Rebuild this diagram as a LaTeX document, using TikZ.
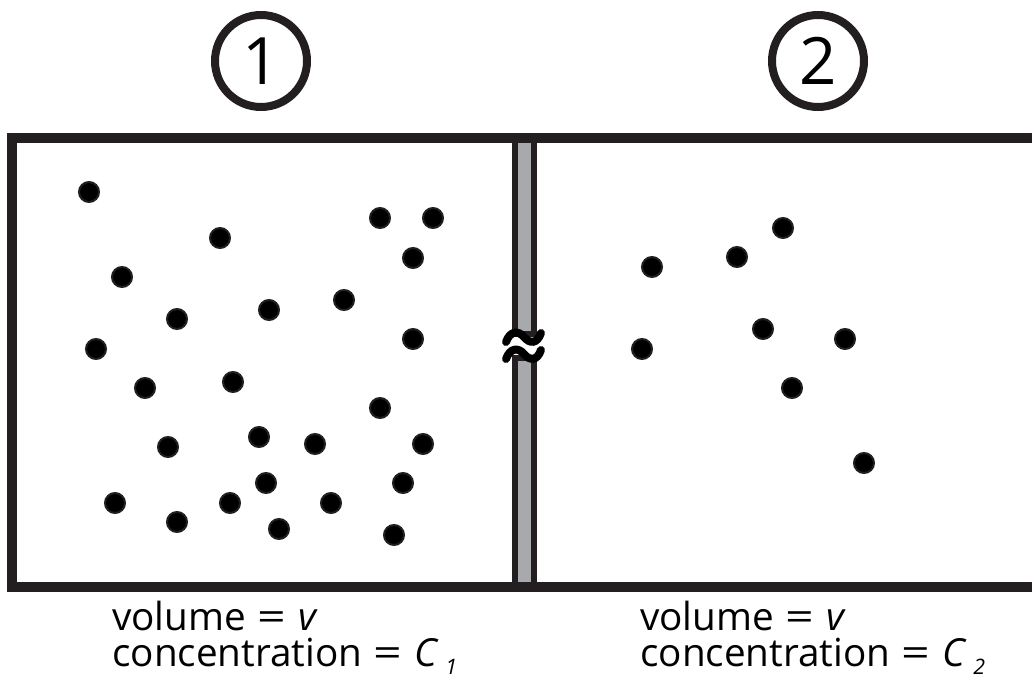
\documentclass[tikz,border=0pt]{standalone}
\usepackage{fontspec}
\setmainfont{Open Sans}
\definecolor{ink}{HTML}{231F20}
\definecolor{wall}{HTML}{A7A9AC}
\newcommand{\wideeq}{\hspace{0.3em}\scalebox{1.3}[1]{=}\hspace{0.3em}}
\begin{document}
\begin{tikzpicture}[x=0.75pt,y=-0.75pt,
  dot/.style={circle,fill=black,draw=ink,line width=1.5pt,inner sep=0pt,minimum size=15pt},
  num/.style={circle,draw=ink,line width=6pt,minimum size=69pt,inner sep=0pt,font=\fontsize{49}{49}\selectfont},
  lab/.style={anchor=base west,inner sep=0pt,font=\fontsize{29}{32}\selectfont},
  boxline/.style={draw=ink,line width=7.5pt},
  wallpiece/.style={draw=ink,fill=wall,line width=4.5pt},
  squiggle/.style={draw=black,line width=6pt,line cap=round}]
\useasboundingbox (0,0) rectangle (1032,681);
\fill[white] (0,0) rectangle (1032,681);
% partition
\draw[wallpiece] (515,138) rectangle (534,334);
\draw[wallpiece] (515,358) rectangle (534,587);
% containers
\draw[boxline] (1045,138) -- (12,138) -- (12,587) -- (1045,587);
% approx sign
\draw[squiggle] (506,342) .. controls (510,331) and (518,330) .. (524,337) .. controls (530,344) and (537,344) .. (541,333);
\draw[squiggle] (506,359) .. controls (510,348) and (518,347) .. (524,354) .. controls (530,361) and (537,361) .. (541,350);
% numbers
\node[num] (n1) at (261,61) {1};
\node[num] (n2) at (818,61) {2};
% particles left
\foreach \p [count=\i] in {(89,192),(220,238),(122,277),(177,319),(96,349),(380,218),(433,218),(413,258),(344,300),(269,310),(413,339),(145,388),(233,382),(168,447),(115,503),(230,503),(177,522),(380,408),(259,437),(315,444),(423,444),(266,483),(403,483),(331,503),(279,529),(394,535)}
  \node[dot] (l\i) at \p {};
% particles right
\foreach \p [count=\i] in {(783,228),(737,257),(652,267),(763,329),(845,339),(642,349),(792,388),(864,463)}
  \node[dot] (r\i) at \p {};
% labels
\node[lab] (v1) at (112,630) {volume\wideeq\textit{v}};
\node[lab] (c1) at (112,666) {concentration\wideeq\textit{C}\kern5pt\raisebox{-6pt}{\fontsize{16}{16}\selectfont\itshape 1}};
\node[lab] (v2) at (640,630) {volume\wideeq\textit{v}};
\node[lab] (c2) at (640,666) {concentration\wideeq\textit{C}\kern5pt\raisebox{-6pt}{\fontsize{16}{16}\selectfont\itshape 2}};
\end{tikzpicture}
\end{document}
